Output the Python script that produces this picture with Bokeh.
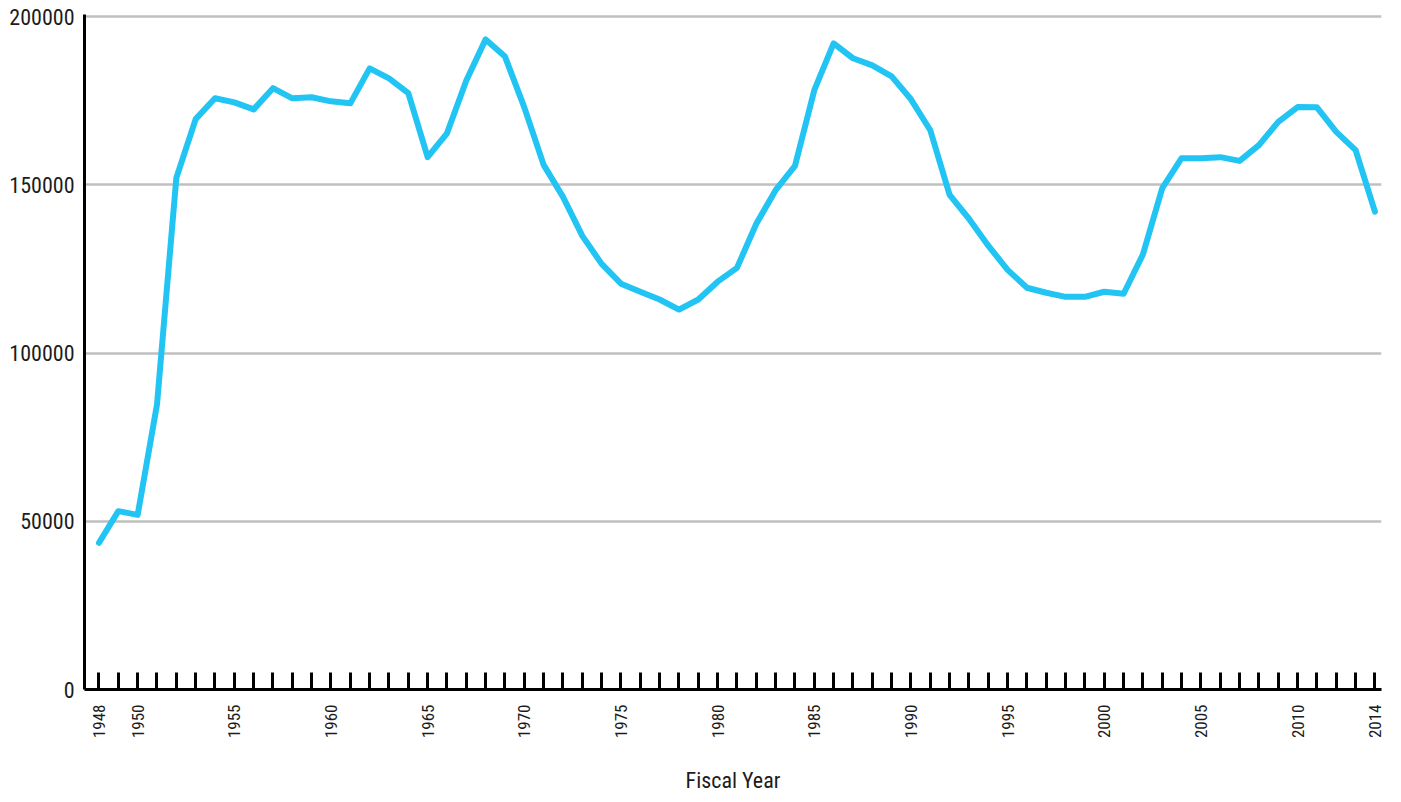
import math
from bokeh.plotting import figure
from bokeh.models import FixedTicker, BasicTickFormatter, Range1d
from bokeh.embed import file_html
from bokeh.resources import INLINE

years = list(range(1948, 2015))
values = [
    43600, 53000, 51900, 84700, 152000, 169500, 175700, 174500, 172400, 178700,
    175700, 176000, 174800, 174200, 184600, 181600, 177200, 158200, 165300, 181000,
    193200, 188100, 173000, 155900, 146400, 134800, 126500, 120600, 118200, 115900,
    112900, 115900, 121200, 125300, 138400, 148400, 155600, 178100, 192000, 187600,
    185500, 182200, 175400, 166200, 147000, 139900, 131900, 124700, 119400, 117900,
    116700, 116700, 118200, 117600, 129300, 149000, 157900, 157900, 158200, 157100,
    161800, 168700, 173100, 173000, 165700, 160300, 142000,
]
label_years = [1948, 1950, 1955, 1960, 1965, 1970, 1975, 1980, 1985, 1990,
               1995, 2000, 2005, 2010, 2014]
y_ticks = [0, 50000, 100000, 150000, 200000]

FONT = "'Roboto Condensed', 'Roboto', sans-serif"
TXT = "#1c1c1c"

p = figure(width=1393, height=798, output_backend="svg", toolbar_location=None,
           x_range=Range1d(1947.25, 2014.34), y_range=Range1d(0, 200600),
           min_border_left=84, min_border_right=12, min_border_top=14,
           min_border_bottom=109)
p.outline_line_color = None
p.background_fill_color = "white"

p.line(years, values, line_color="#22c4f3", line_width=6,
       line_join="round", line_cap="round")

# x axis
xa = p.xaxis[0]
xa.ticker = FixedTicker(ticks=years)
xa.major_label_overrides = {y: (str(y) if y in label_years else "") for y in years}
xa.major_label_orientation = math.pi / 2
xa.major_tick_in = 17
xa.major_tick_out = 0
xa.major_tick_line_width = 3
xa.major_tick_line_color = "black"
xa.minor_tick_line_color = None
xa.axis_line_width = 3
xa.axis_line_color = "black"
xa.major_label_standoff = 15
xa.major_label_text_font = FONT
xa.major_label_text_font_size = "17px"
xa.major_label_text_color = TXT
xa.axis_label = "Fiscal Year"
xa.axis_label_text_font = FONT
xa.axis_label_text_font_size = "22px"
xa.axis_label_text_font_style = "normal"
xa.axis_label_text_color = TXT
xa.axis_label_standoff = 27

# y axis
ya = p.yaxis[0]
ya.ticker = FixedTicker(ticks=y_ticks)
ya.formatter = BasicTickFormatter(use_scientific=False)
ya.major_tick_in = 0
ya.major_tick_out = 0
ya.minor_tick_line_color = None
ya.axis_line_width = 3
ya.axis_line_color = "black"
ya.major_label_standoff = 10
ya.major_label_text_font = FONT
ya.major_label_text_font_size = "22px"
ya.major_label_text_color = TXT

p.xgrid.grid_line_color = None
p.ygrid.ticker = FixedTicker(ticks=y_ticks[1:])
p.ygrid.grid_line_color = "#c0c0c0"
p.ygrid.grid_line_width = 2.5

open("out.html", "w").write(file_html(p, INLINE))
